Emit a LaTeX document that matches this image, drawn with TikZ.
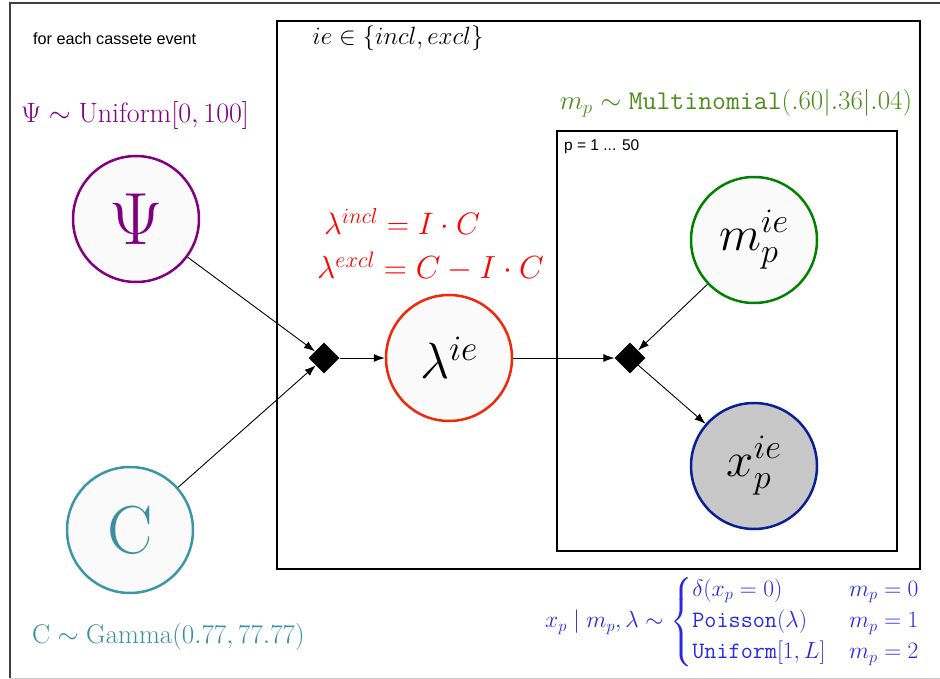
\RequirePackage{fix-cm}
\documentclass[tikz,border=0pt]{standalone}
\usepackage{amsmath}
\usepackage{fontspec}
\newfontfamily\helv{Liberation Sans}
\usetikzlibrary{shapes.geometric,arrows.meta}
\definecolor{psicol}{RGB}{128,0,128}
\definecolor{ccol}{RGB}{58,142,160}
\definecolor{ccircle}{RGB}{60,150,170}
\definecolor{lamcol}{RGB}{240,40,10}
\definecolor{mcircle}{RGB}{0,130,0}
\definecolor{mcol}{RGB}{76,140,24}
\definecolor{xcircle}{RGB}{10,30,150}
\definecolor{xfill}{RGB}{200,200,200}
\definecolor{xcol}{RGB}{40,40,230}
\newcommand{\myfs}[1]{\fontsize{#1}{#1}\selectfont}
\begin{document}
\begin{tikzpicture}[x=1pt,y=-1pt,
  var/.style={circle, draw, line width=2.5pt, minimum size=126pt, inner sep=0pt, fill=white!98!black},
  fac/.style={diamond, fill=black, minimum size=31pt, inner sep=0pt},
  arr/.style={-{Latex[length=11pt,width=8pt]}, line width=0.9pt},
  plate/.style={draw, line width=1.1pt},
  lab/.style={inner sep=0pt}]
\useasboundingbox (0,0) rectangle (940,679);
% outer frame
\draw[black!75, line width=1.2pt] (10,678) -- (10,3) -- (940,3);
\draw[black!20, line width=1pt] (10,678) -- (940,678);
% plates
\draw[plate] (277,21) rectangle (920,569);
\draw[plate] (557,131) rectangle (897,551);
% labels
\node[lab, anchor=west, font=\helv\myfs{16.2}] (title) at (33,39) {for each cassete event};
\node[lab, font=\myfs{25}] (ielab) at (398,38) {$ie \in \{incl, excl\}$};
\node[lab, anchor=west, font=\helv\myfs{15.5}] (plab) at (564,147) {p = 1 ... 50};
\node[lab, text=psicol, font=\myfs{28}] (psilab) at (135,116) {$\Psi \sim \mathrm{Uniform}[0,100]$};
\node[lab, text=ccol, anchor=west, font=\myfs{27}] (clab) at (32,637) {$\mathrm{C} \sim \mathrm{Gamma}(0.77, 77.77)$};
\node[lab, text=mcol, font=\myfs{27}] (mlab) at (736,103) {$m_p \sim \texttt{Multinomial}(.60|.36|.04)$};
\node[lab, text=red, anchor=base west, font=\myfs{31}] (l1) at (324,235) {$\lambda^{incl} = I\cdot C$};
\node[lab, text=red, anchor=base west, font=\myfs{32}] (l2) at (317,279) {$\lambda^{excl} = C - I\cdot C$};
\node[lab, text=xcol, anchor=west, font=\myfs{23.5}] (xlab) at (545,622) {$x_p \mid m_p, \lambda \sim \begin{cases} \delta(x_p=0) & m_p=0\\[3pt] \texttt{Poisson}(\lambda) & m_p = 1\\[3pt] \texttt{Uniform}[1,L] & m_p=2\end{cases}$};
% variables
\node[var, draw=psicol, text=psicol, font=\myfs{74}] (psi) at (136,219) {$\Psi$};
\node[var, draw=ccircle, text=ccol, font=\myfs{68}] (c) at (130,530) {$\mathrm{C}$};
\node[var, draw=lamcol, font=\myfs{51}] (lam) at (449,358) {$\lambda^{ie}$};
\node[var, draw=mcircle, font=\myfs{49}] (m) at (754,240) {$m_p^{ie}$};
\node[var, draw=xcircle, fill=xfill, font=\myfs{49}] (x) at (754,466) {$x_p^{ie}$};
% factors
\node[fac] (d1) at (324,358) {};
\node[fac] (d2) at (630,358) {};
% edges
\draw[arr] (psi) -- (d1);
\draw[arr] (c) -- (d1);
\draw[arr] (d1) -- (lam);
\draw[arr] (lam) -- (d2);
\draw[arr] (m) -- (d2);
\draw[arr] (d2) -- (x);
\end{tikzpicture}
\end{document}
